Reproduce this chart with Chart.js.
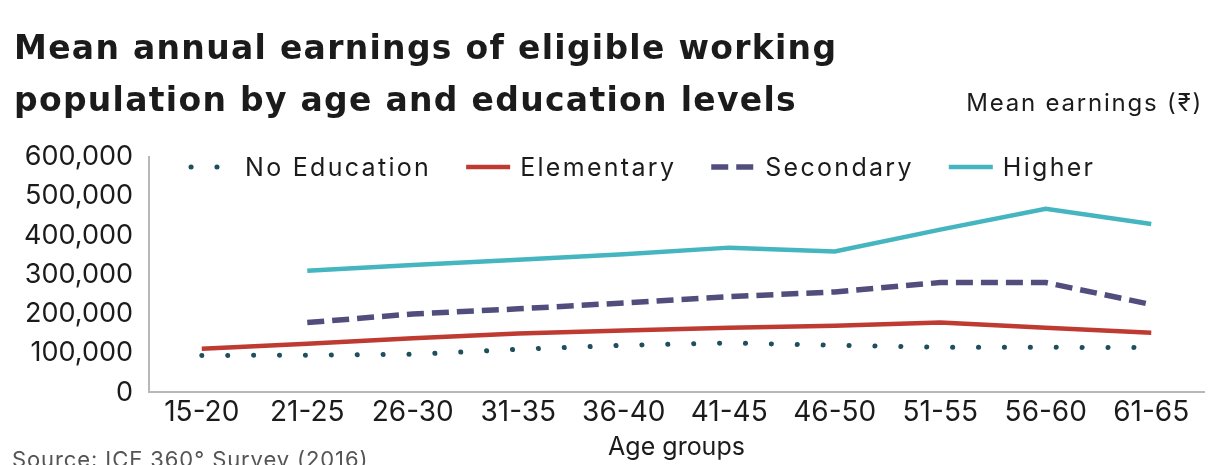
<!DOCTYPE html>
<html>
<head>
<meta charset="utf-8">
<script src="https://cdn.jsdelivr.net/npm/chart.js@4.4.1/dist/chart.umd.min.js"></script>
<style>
  html, body { margin: 0; padding: 0; background: #fff; }
  body { width: 1210px; height: 465px; position: relative; overflow: hidden; font-family: Inter, "Open Sans", sans-serif; color: #1b1b1b; }
  #title { position: absolute; left: 14px; top: 22px; font-family: "DejaVu Sans", sans-serif; font-size: 33px; font-weight: 700; line-height: 52px; letter-spacing: 1.3px; }
  #unit { position: absolute; right: 7px; top: 88px; font-size: 24px; letter-spacing: 1.8px; }
  #source { position: absolute; left: 12px; top: 446px; font-size: 22px; color: #555; letter-spacing: 0.9px; }
  #wrap { position: absolute; left: 0; top: 0; width: 1210px; height: 465px; }
</style>
</head>
<body>
<div id="wrap"><canvas id="c" width="1210" height="465"></canvas></div>
<div id="title">Mean annual earnings of eligible working<br>population by age and education levels</div>
<div id="unit">Mean earnings (₹)</div>
<div id="source">Source: ICE 360° Survey (2016)</div>
<script>
const categories = ["15-20","21-25","26-30","31-35","36-40","41-45","46-50","51-55","56-60","61-65"];
const noEducation = [94000, 95000, 97000, 110000, 120000, 126000, 120000, 115000, 115000, 114000];
const elementary  = [111000, 124000, 138000, 150000, 158000, 165000, 170000, 178000, 165000, 152000];
const secondary   = [null, 178000, 200000, 213000, 228000, 244000, 256000, 280000, 280000, 224000];
const higher      = [null, 310000, 325000, 338000, 352000, 369000, 359000, 415000, 468000, 429000];
const seriesNames = ["No Education", "Elementary", "Secondary", "Higher"];
const yTicks = [0, 100000, 200000, 300000, 400000, 500000, 600000];

const FONT = "Inter, 'Open Sans', sans-serif";

const insideLegend = {
  id: 'insideLegend',
  afterDraw(chart) {
    const ctx = chart.ctx;
    const area = chart.chartArea;
    let x = area.left + 42;
    const y = area.top + 10;
    ctx.save();
    ctx.font = "25px " + FONT;
    ctx.letterSpacing = '2.3px';
    ctx.textBaseline = 'middle';
    ctx.fillStyle = '#1b1b1b';
    chart.data.datasets.forEach((ds) => {
      ctx.save();
      ctx.strokeStyle = ds.borderColor;
      ctx.lineWidth = ds.borderWidth;
      ctx.lineCap = ds.borderCapStyle || 'butt';
      ctx.setLineDash(ds.borderDash || []);
      ctx.beginPath();
      ctx.moveTo(x, y);
      ctx.lineTo(x + 44, y);
      ctx.stroke();
      ctx.restore();
      x += 54;
      ctx.fillText(ds.label, x, y + 1);
      x += ctx.measureText(ds.label).width + 35;
    });
    ctx.restore();
  }
};

new Chart(document.getElementById('c'), {
  type: 'line',
  data: {
    labels: categories,
    datasets: [
      { label: seriesNames[0], data: noEducation, borderColor: '#1f4f5c', borderWidth: 5, borderDash: [0.1, 25.8], borderCapStyle: 'round', pointRadius: 0, tension: 0 },
      { label: seriesNames[1], data: elementary, borderColor: '#bf3a31', borderWidth: 4.5, pointRadius: 0, tension: 0 },
      { label: seriesNames[2], data: secondary, borderColor: '#514e7e', borderWidth: 5.5, borderDash: [17, 8], pointRadius: 0, tension: 0 },
      { label: seriesNames[3], data: higher, borderColor: '#45b5c0', borderWidth: 4.5, pointRadius: 0, tension: 0 }
    ]
  },
  plugins: [insideLegend],
  options: {
    responsive: false,
    animation: false,
    spanGaps: false,
    layout: { padding: { left: 8, right: 6, top: 157, bottom: 3 } },
    plugins: {
      legend: { display: false },
      tooltip: { enabled: false }
    },
    scales: {
      x: {
        offset: true,
        grid: { display: false, drawTicks: false },
        border: { display: true, color: '#b8b8b8', width: 2 },
        ticks: { color: '#1b1b1b', font: { family: FONT, size: 28 }, padding: 3, maxRotation: 0, autoSkip: false },
        title: { display: true, text: 'Age groups', color: '#1b1b1b', font: { family: FONT, size: 25 }, padding: { top: 0, bottom: 0 } }
      },
      y: {
        min: 0, max: 600000,
        afterBuildTicks: (axis) => { axis.ticks = yTicks.map(v => ({ value: v })); },
        grid: { display: false, drawTicks: false },
        border: { display: true, color: '#b8b8b8', width: 2 },
        ticks: { color: '#1b1b1b', font: { family: FONT, size: 27 }, padding: 16,
          callback: (v) => Number(v).toLocaleString('en-US') }
      }
    }
  }
});
</script>
</body>
</html>
